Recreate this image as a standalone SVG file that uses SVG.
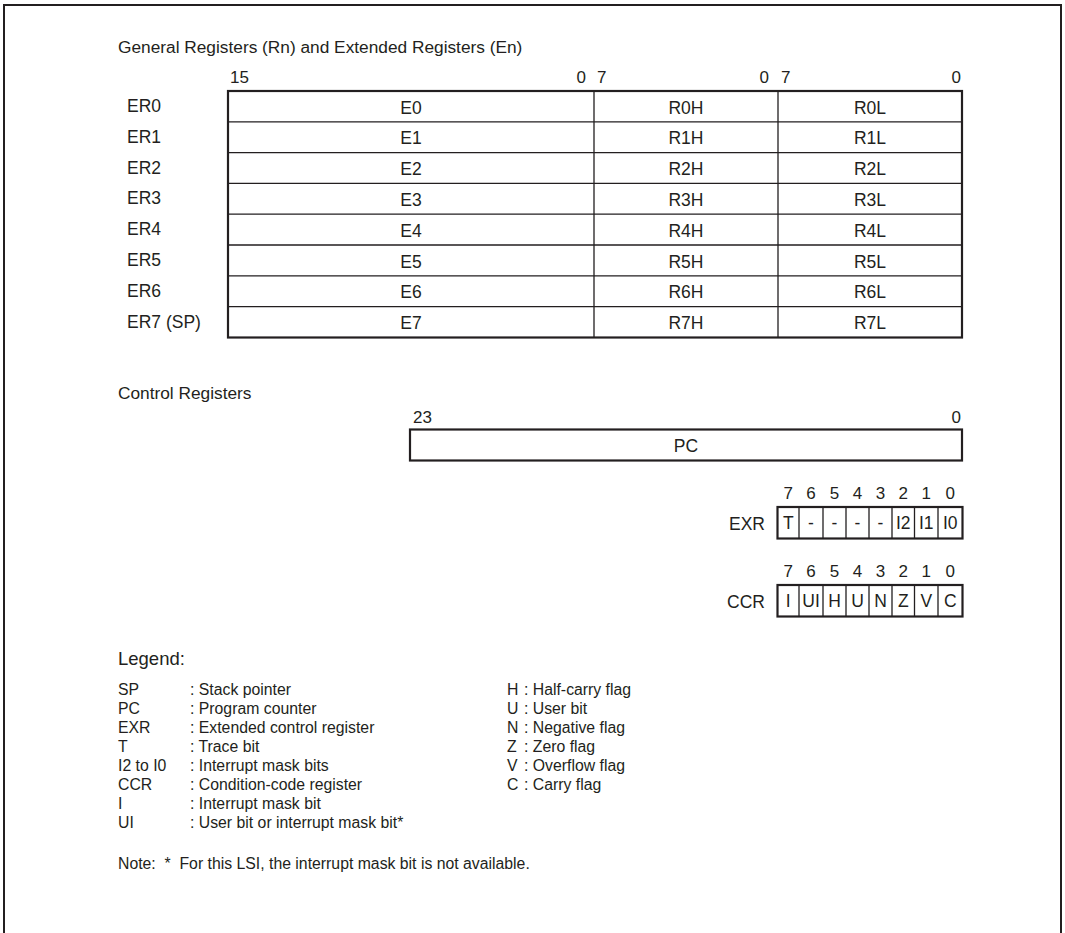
<svg xmlns="http://www.w3.org/2000/svg" width="1065" height="933" viewBox="0 0 1065 933">
<style>
text{font-family:"Liberation Sans",Arial,sans-serif;fill:#231f20}
.h{font-size:17.3px}
.g{font-size:18.5px}
.t{font-size:17.5px}
.c{text-anchor:middle}
.e{text-anchor:end}
.n{font-size:17px}
.l{font-size:15.8px}
.box{fill:#fff;stroke:#231f20;stroke-width:2.2}
.ln{stroke:#231f20;stroke-width:1.3;fill:none}
</style>
<rect x="0" y="0" width="1065" height="933" fill="#fff"/>
<path d="M4 940 V5 H1061 V940" fill="none" stroke="#231f20" stroke-width="2"/>
<text class="h" x="118" y="53">General Registers (Rn) and Extended Registers (En)</text>
<g id="gen-bits">
<text class="n" x="230" y="83">15</text>
<text class="n e" x="586" y="83">0</text>
<text class="n" x="597" y="83">7</text>
<text class="n e" x="769" y="83">0</text>
<text class="n" x="781" y="83">7</text>
<text class="n e" x="961" y="83">0</text>
</g>
<g id="general-registers">
<rect class="box" x="228" y="91" width="734" height="246.5"/>
<path class="ln" d="M228 121.8H962M228 152.6H962M228 183.4H962M228 214.2H962M228 245H962M228 275.8H962M228 306.6H962M594 91V337.5M778 91V337.5"/>
<g id="ER0"><text class="t" x="127" y="112">ER0</text><text class="t c" x="411" y="113.5">E0</text><text class="t c" x="686" y="113.5">R0H</text><text class="t c" x="870" y="113.5">R0L</text></g>
<g id="ER1"><text class="t" x="127" y="142.8">ER1</text><text class="t c" x="411" y="144.3">E1</text><text class="t c" x="686" y="144.3">R1H</text><text class="t c" x="870" y="144.3">R1L</text></g>
<g id="ER2"><text class="t" x="127" y="173.6">ER2</text><text class="t c" x="411" y="175.1">E2</text><text class="t c" x="686" y="175.1">R2H</text><text class="t c" x="870" y="175.1">R2L</text></g>
<g id="ER3"><text class="t" x="127" y="204.4">ER3</text><text class="t c" x="411" y="205.9">E3</text><text class="t c" x="686" y="205.9">R3H</text><text class="t c" x="870" y="205.9">R3L</text></g>
<g id="ER4"><text class="t" x="127" y="235.2">ER4</text><text class="t c" x="411" y="236.7">E4</text><text class="t c" x="686" y="236.7">R4H</text><text class="t c" x="870" y="236.7">R4L</text></g>
<g id="ER5"><text class="t" x="127" y="266">ER5</text><text class="t c" x="411" y="267.5">E5</text><text class="t c" x="686" y="267.5">R5H</text><text class="t c" x="870" y="267.5">R5L</text></g>
<g id="ER6"><text class="t" x="127" y="296.8">ER6</text><text class="t c" x="411" y="298.3">E6</text><text class="t c" x="686" y="298.3">R6H</text><text class="t c" x="870" y="298.3">R6L</text></g>
<g id="ER7"><text class="t" x="127" y="327.6">ER7 (SP)</text><text class="t c" x="411" y="329.1">E7</text><text class="t c" x="686" y="329.1">R7H</text><text class="t c" x="870" y="329.1">R7L</text></g>
</g>
<text class="h" x="118" y="399">Control Registers</text>
<g id="PC">
<text class="n" x="413" y="423">23</text>
<text class="n e" x="961" y="423">0</text>
<rect class="box" x="410" y="429.5" width="552" height="31"/>
<text class="t c" x="686" y="451.5">PC</text>
</g>
<g id="EXR">
<text class="n c" x="788.3" y="499">7</text><text class="n c" x="811" y="499">6</text><text class="n c" x="834.5" y="499">5</text><text class="n c" x="857.5" y="499">4</text><text class="n c" x="880.5" y="499">3</text><text class="n c" x="903.3" y="499">2</text><text class="n c" x="926.3" y="499">1</text><text class="n c" x="950.3" y="499">0</text>
<text class="t e" x="765" y="530">EXR</text>
<rect class="box" x="777.5" y="507" width="185" height="31.5"/>
<path class="ln" d="M799 507V538.5M823 507V538.5M846 507V538.5M869 507V538.5M892 507V538.5M914.5 507V538.5M938 507V538.5"/>
<text class="t c" x="788.3" y="529">T</text><text class="t c" x="811" y="529">-</text><text class="t c" x="834.5" y="529">-</text><text class="t c" x="857.5" y="529">-</text><text class="t c" x="880.5" y="529">-</text><text class="t c" x="903.3" y="529">I2</text><text class="t c" x="926.3" y="529">I1</text><text class="t c" x="950.3" y="529">I0</text>
</g>
<g id="CCR">
<text class="n c" x="788.3" y="577">7</text><text class="n c" x="811" y="577">6</text><text class="n c" x="834.5" y="577">5</text><text class="n c" x="857.5" y="577">4</text><text class="n c" x="880.5" y="577">3</text><text class="n c" x="903.3" y="577">2</text><text class="n c" x="926.3" y="577">1</text><text class="n c" x="950.3" y="577">0</text>
<text class="t e" x="765" y="608">CCR</text>
<rect class="box" x="777.5" y="585" width="185" height="31.5"/>
<path class="ln" d="M799 585V616.5M823 585V616.5M846 585V616.5M869 585V616.5M892 585V616.5M914.5 585V616.5M938 585V616.5"/>
<text class="t c" x="788.3" y="607">I</text><text class="t c" x="811" y="607">UI</text><text class="t c" x="834.5" y="607">H</text><text class="t c" x="857.5" y="607">U</text><text class="t c" x="880.5" y="607">N</text><text class="t c" x="903.3" y="607">Z</text><text class="t c" x="926.3" y="607">V</text><text class="t c" x="950.3" y="607">C</text>
</g>
<g id="connectors"/>
<g id="legend">
<text class="g" x="118" y="665">Legend:</text>
<text class="l" x="118" y="695">SP</text><text class="l" x="190" y="695">: Stack pointer</text>
<text class="l" x="118" y="714">PC</text><text class="l" x="190" y="714">: Program counter</text>
<text class="l" x="118" y="733">EXR</text><text class="l" x="190" y="733">: Extended control register</text>
<text class="l" x="118" y="752">T</text><text class="l" x="190" y="752">: Trace bit</text>
<text class="l" x="118" y="771">I2 to I0</text><text class="l" x="190" y="771">: Interrupt mask bits</text>
<text class="l" x="118" y="790">CCR</text><text class="l" x="190" y="790">: Condition-code register</text>
<text class="l" x="118" y="809">I</text><text class="l" x="190" y="809">: Interrupt mask bit</text>
<text class="l" x="118" y="828">UI</text><text class="l" x="190" y="828">: User bit or interrupt mask bit*</text>
<text class="l" x="507" y="695">H</text><text class="l" x="524" y="695">: Half-carry flag</text>
<text class="l" x="507" y="714">U</text><text class="l" x="524" y="714">: User bit</text>
<text class="l" x="507" y="733">N</text><text class="l" x="524" y="733">: Negative flag</text>
<text class="l" x="507" y="752">Z</text><text class="l" x="524" y="752">: Zero flag</text>
<text class="l" x="507" y="771">V</text><text class="l" x="524" y="771">: Overflow flag</text>
<text class="l" x="507" y="790">C</text><text class="l" x="524" y="790">: Carry flag</text>
<text class="l" x="118" y="869" xml:space="preserve">Note:  *  For this LSI, the interrupt mask bit is not available.</text>
</g>
</svg>
